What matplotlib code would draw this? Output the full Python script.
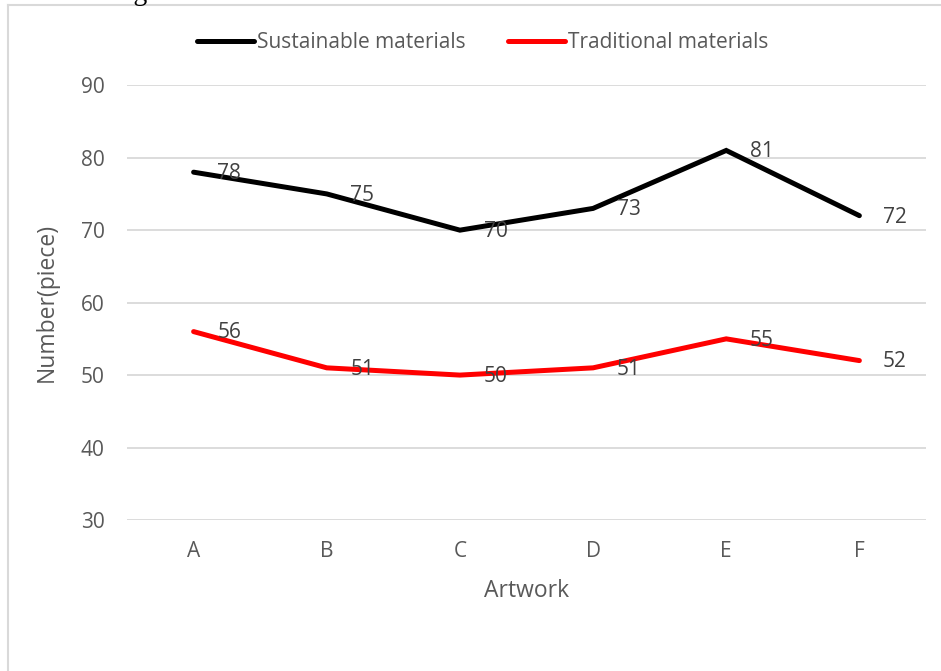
import matplotlib
matplotlib.use("Agg")
import matplotlib.pyplot as plt
from matplotlib.lines import Line2D

# data
artworks = ["A", "B", "C", "D", "E", "F"]
sustainable = [78, 75, 70, 73, 81, 72]
traditional = [56, 51, 50, 51, 55, 52]
series_names = ["Sustainable materials", "Traditional materials"]
y_ticks = [30, 40, 50, 60, 70, 80, 90]

TEXT_GREY = "#595959"
GRID_GREY = "#d9d9d9"
FONT = ["Open Sans", "DejaVu Sans"]

plt.rcParams["font.family"] = FONT

fig = plt.figure(figsize=(9.41, 6.71), dpi=100)
ax = fig.add_axes([0.135, 0.225, 0.849, 0.648])

x = list(range(len(artworks)))
ax.plot(x, sustainable, color="black", lw=3.6, solid_joinstyle="miter",
        solid_capstyle="round", label=series_names[0])
ax.plot(x, traditional, color="#ff0000", lw=3.6, solid_joinstyle="miter",
        solid_capstyle="round", label=series_names[1])

# data labels to the right of each point (excel style)
for xi, v in zip(x, sustainable):
    ax.annotate(str(v), (xi, v), xytext=(17, -1), textcoords="offset points",
                va="center", ha="left", fontsize=15, color="#404040")
for xi, v in zip(x, traditional):
    ax.annotate(str(v), (xi, v), xytext=(17, -1), textcoords="offset points",
                va="center", ha="left", fontsize=15, color="#404040")

ax.set_xlim(-0.5, len(artworks) - 0.5)
ax.set_ylim(30, 90)
ax.set_yticks(y_ticks)
ax.set_xticks(x)
ax.set_xticklabels(artworks)
ax.tick_params(axis="both", length=0, colors=TEXT_GREY, labelsize=15)
ax.tick_params(axis="y", pad=16)
ax.tick_params(axis="x", pad=15)
ax.grid(axis="y", color=GRID_GREY, lw=1.3)
ax.set_axisbelow(True)
for s in ax.spines.values():
    s.set_visible(False)

ax.set_xlabel("Artwork", color=TEXT_GREY, fontsize=16.5, labelpad=12)
ax.set_ylabel("Number(piece)", color=TEXT_GREY, fontsize=16.5, labelpad=16)

handles = [Line2D([], [], color="black", lw=3.6, solid_capstyle="round"),
           Line2D([], [], color="#ff0000", lw=3.6, solid_capstyle="round")]
leg = fig.legend(handles, series_names, loc="center", bbox_to_anchor=(0.513, 0.936),
                 ncol=2, frameon=False, fontsize=15, handlelength=2.75,
                 handletextpad=0.15, columnspacing=2.0)
for t in leg.get_texts():
    t.set_color(TEXT_GREY)

# chart area border (cut off at right and bottom in the reference)
fig.add_artist(Line2D([8 / 941, 8 / 941], [0, 1 - 5 / 671], color=GRID_GREY, lw=1.5))
fig.add_artist(Line2D([8 / 941, 1], [1 - 5 / 671, 1 - 5 / 671], color=GRID_GREY, lw=1.5))

# caption cut off at the top edge
fig.text(0.117, 1.0, "Fig", family="Liberation Serif", fontsize=20,
         va="baseline", ha="left", color="black")

fig.savefig("out.png", dpi=100, facecolor="white")
